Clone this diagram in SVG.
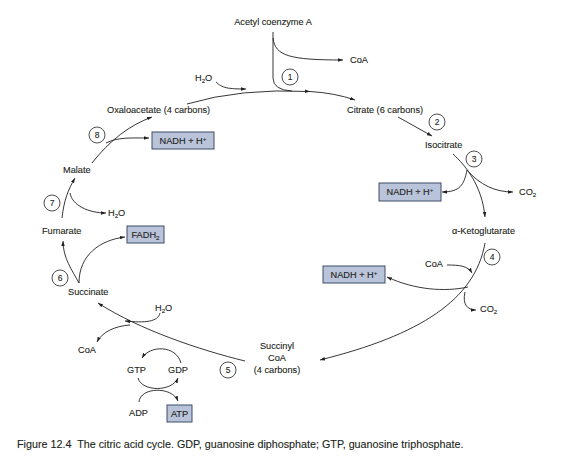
<svg xmlns="http://www.w3.org/2000/svg" width="567" height="458" viewBox="0 0 567 458">
<style>
text{font-family:"Liberation Sans",Arial,sans-serif;font-size:9.2px;fill:#231f20;stroke:#231f20;stroke-width:0.12}
.c{text-anchor:middle}
.box{fill:#b9c3d9;stroke:#3d4d66;stroke-width:1}
.num{fill:#fff;stroke:#231f20;stroke-width:0.8}
.ln{fill:none;stroke:#231f20;stroke-width:0.9}
.a{marker-end:url(#ah)}
.cap{font-size:10.75px}
.sub{font-size:6.2px}
.n{font-size:8.5px}
</style>
<defs>
<marker id="ah" viewBox="0 0 10 10" refX="10" refY="5" markerWidth="5" markerHeight="5" orient="auto" markerUnits="userSpaceOnUse">
<path d="M0,1.5 L10,5 L0,8.5 Z" fill="#231f20"/>
</marker>
</defs>
<rect width="567" height="458" fill="#fff"/>

<g id="connectors">
<!-- step 1 -->
<path class="ln a" d="M187,104 Q240,88 310,91.5"/>
<path class="ln a" d="M310,91.5 Q335,93 355,100"/>
<path class="ln" d="M273,32 L273,78 Q273,90 292,91"/>
<path class="ln a" d="M273,38 C275,56 290,60 343,60"/>
<path class="ln a" d="M216,82 C222,88 228,89 246,89"/>
<!-- step 2 -->
<path class="ln a" d="M398,117 L432,136"/>
<!-- step 3 -->
<path class="ln a" d="M453,154 C465,165 482,185 485,217"/>
<path class="ln a" d="M467,170 C464,185 460,192 442,192"/>
<path class="ln a" d="M467,170 C480,185 495,192 513,192"/>
<!-- step 4 -->
<path class="ln a" d="M485,243 C475,300 420,335 320,360"/>
<path class="ln a" d="M447,265 C460,265 468,266 472,273"/>
<path class="ln a" d="M468,287 C445,292 415,290 387,277"/>
<path class="ln a" d="M465,292 C462,305 468,310 476,310"/>
<!-- step 5 -->
<path class="ln a" d="M245,361 C200,350 140,330 98,303"/>
<path class="ln a" d="M160,313 C158,322 145,323 125,321"/>
<path class="ln a" d="M130,325 C115,326 102,332 97,342"/>
<path class="ln a" d="M181,363 C176,345 150,345 142,358"/>
<path class="ln a" d="M138,378 C142,392 172,392 178,378"/>
<path class="ln a" d="M139,402 C140,387 172,386 178,401"/>
<!-- step 6 -->
<path class="ln a" d="M79,283 C72,270 63,258 63,241"/>
<path class="ln a" d="M79,283 C79,255 100,240 125,237"/>
<!-- step 7 -->
<path class="ln a" d="M62,218 C64,200 68,190 75,178"/>
<path class="ln a" d="M70,193 C72,205 88,213 106,213"/>
<!-- step 8 -->
<path class="ln a" d="M92,163 C110,140 130,125 152,117"/>
<path class="ln a" d="M106,143 C118,137 130,138 149,138"/>
</g>

<g id="acetylcoa"><text class="c" x="273" y="25">Acetyl coenzyme A</text></g>
<g id="coa1"><text x="350" y="63">CoA</text></g>
<g id="h2o1"><text x="195" y="81">H<tspan class="sub" dy="2">2</tspan><tspan dy="-2">O</tspan></text></g>
<g id="oxaloacetate"><text x="107" y="113">Oxaloacetate (4 carbons)</text></g>
<g id="citrate"><text x="347" y="113">Citrate (6 carbons)</text></g>
<g id="isocitrate"><text x="425" y="148">Isocitrate</text></g>
<g id="nadh1"><rect class="box" x="152" y="132" width="62" height="17"/><text class="c" x="183" y="144">NADH + H<tspan class="sub" dy="-3">+</tspan></text></g>
<g id="malate"><text x="63" y="173">Malate</text></g>
<g id="h2o2"><text x="108" y="216">H<tspan class="sub" dy="2">2</tspan><tspan dy="-2">O</tspan></text></g>
<g id="fumarate"><text x="42" y="234">Fumarate</text></g>
<g id="fadh2"><rect class="box" x="127" y="226" width="37" height="17"/><text class="c" x="145.5" y="238">FADH<tspan class="sub" dy="2">2</tspan></text></g>
<g id="succinate"><text x="68" y="295">Succinate</text></g>
<g id="h2o3"><text x="155" y="311">H<tspan class="sub" dy="2">2</tspan><tspan dy="-2">O</tspan></text></g>
<g id="coa2"><text x="78" y="353">CoA</text></g>
<g id="gtp"><text x="127" y="373">GTP</text></g>
<g id="gdp"><text x="168" y="373">GDP</text></g>
<g id="adp"><text x="129" y="416">ADP</text></g>
<g id="atp"><rect class="box" x="167" y="405" width="25" height="17"/><text class="c" x="179.5" y="417">ATP</text></g>
<g id="succinylcoa"><text class="c" x="277" y="349">Succinyl</text><text class="c" x="277" y="361">CoA</text><text class="c" x="277" y="373">(4 carbons)</text></g>
<g id="nadh2"><rect class="box" x="379" y="183" width="62" height="18"/><text class="c" x="410" y="195">NADH + H<tspan class="sub" dy="-3">+</tspan></text></g>
<g id="co2a"><text x="519" y="195">CO<tspan class="sub" dy="2">2</tspan></text></g>
<g id="ketoglutarate"><text x="452" y="234">α-Ketoglutarate</text></g>
<g id="coa3"><text x="425" y="267">CoA</text></g>
<g id="nadh3"><rect class="box" x="323" y="266" width="62" height="17"/><text class="c" x="354" y="278">NADH + H<tspan class="sub" dy="-3">+</tspan></text></g>
<g id="co2b"><text x="480" y="312">CO<tspan class="sub" dy="2">2</tspan></text></g>

<g id="steps">
<circle class="num" cx="290" cy="77" r="8"/><text class="c n" x="290" y="80">1</text>
<circle class="num" cx="437" cy="122" r="8"/><text class="c n" x="437" y="125">2</text>
<circle class="num" cx="474" cy="159" r="8"/><text class="c n" x="474" y="162">3</text>
<circle class="num" cx="492" cy="257" r="8"/><text class="c n" x="492" y="260">4</text>
<circle class="num" cx="228" cy="370" r="8"/><text class="c n" x="228" y="373">5</text>
<circle class="num" cx="60" cy="278" r="8"/><text class="c n" x="60" y="281">6</text>
<circle class="num" cx="52" cy="203" r="8"/><text class="c n" x="52" y="206">7</text>
<circle class="num" cx="97" cy="135" r="8"/><text class="c n" x="97" y="138">8</text>
</g>

<g id="caption"><text class="cap" x="17" y="448" xml:space="preserve">Figure 12.4  The citric acid cycle. GDP, guanosine diphosphate; GTP, guanosine triphosphate.</text></g>
</svg>
